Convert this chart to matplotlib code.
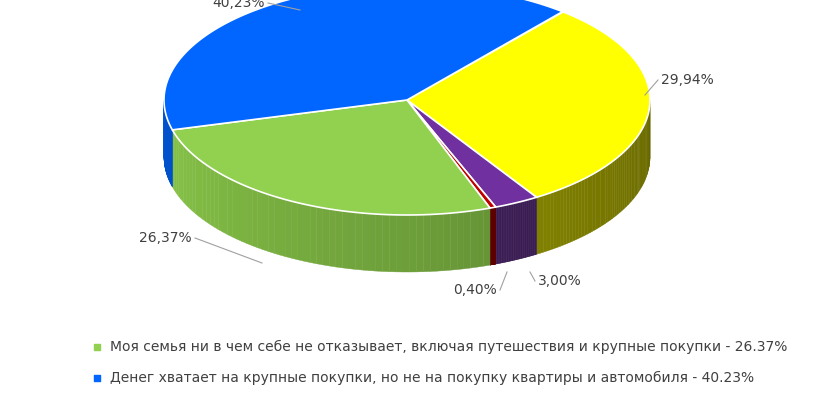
import numpy as np
import matplotlib.pyplot as plt
from matplotlib.patches import Polygon

labels = ["Моя семья ни в чем себе не отказывает, включая путешествия и крупные покупки",
          "Денег хватает на крупные покупки, но не на покупку квартиры и автомобиля",
          "Денег хватает на еду и одежду",
          "Денег не хватает даже на еду",
          "Затрудняюсь ответить"]
values = [26.37, 40.23, 29.94, 0.40, 3.00]
pct_text = ["26,37%", "40,23%", "29,94%", "0,40%", "3,00%"]
colors = ["#92D050", "#0066FF", "#FFFF00", "#C00000", "#7030A0"]
side_colors = ["#6a9a38", "#0040a0", "#8a8a00", "#600000", "#3a1a55"]

# clockwise drawing order starting with yellow
order = [2, 4, 3, 0, 1]
start = 50.0
cx, cy, rx, ry, depth = 407, 100, 243, 115, 57

fig = plt.figure(figsize=(8.2, 4), dpi=100)
ax = fig.add_axes([0, 0, 1, 1])
ax.set_xlim(0, 820)
ax.set_ylim(400, 0)
ax.axis("off")

def pt(t):
    r = np.radians(t)
    return cx + rx * np.cos(r), cy - ry * np.sin(r)

spans = {}
a = start
for i in order:
    b = a - values[i] / 100 * 360
    spans[i] = (a, b)
    a = b

# side walls
for i in order:
    a, b = spans[i]
    lo, hi = max(min(a, b), -180), min(max(a, b), 0)
    if lo >= hi:
        lo2, hi2 = max(min(a, b) + 360, -180), min(max(a, b) + 360, 0)
        if lo2 >= hi2:
            continue
        lo, hi = lo2, hi2
    ts = np.linspace(lo, hi, 60)
    base = np.array(plt.matplotlib.colors.to_rgb(side_colors[i]))
    for t0, t1 in zip(ts[:-1], ts[1:]):
        f = 1.3 - 0.55 * (t0 + 180) / 180
        c = np.clip(base * f, 0, 1)
        x0, y0 = pt(t0); x1, y1 = pt(t1)
        ax.add_patch(Polygon([(x0, y0), (x1, y1), (x1, y1 + depth), (x0, y0 + depth)],
                             closed=True, fc=c, ec=c, lw=0.3))

# top faces
for i in order:
    a, b = spans[i]
    ts = np.linspace(a, b, 200)
    pts = [(cx, cy)] + [pt(t) for t in ts]
    ax.add_patch(Polygon(pts, closed=True, fc=colors[i], ec="white", lw=1.2))

# labels with leader lines
def lab(x, y, lx, ly, s, ha):
    ax.plot([x, lx], [y, ly], color="#a0a0a0", lw=0.8)
    ax.text(lx + (3 if ha == "left" else -3), ly, s, ha=ha, va="center", fontsize=10, color="#404040")

lab(300, 10, 268, 3, pct_text[1], "right")
lab(645, 95, 658, 80, pct_text[2], "left")
lab(262, 263, 195, 238, pct_text[0], "right")
lab(507, 272, 500, 290, pct_text[3], "right")
lab(530, 272, 535, 281, pct_text[4], "left")

for k, i in enumerate([0, 1]):
    y = 347 + 31 * k
    ax.scatter([97], [y], marker="s", s=20, color=colors[i])
    ax.text(110, y, f"{labels[i]} - {values[i]:.2f}%", va="center", fontsize=10, color="#404040")

fig.savefig("out.png")
